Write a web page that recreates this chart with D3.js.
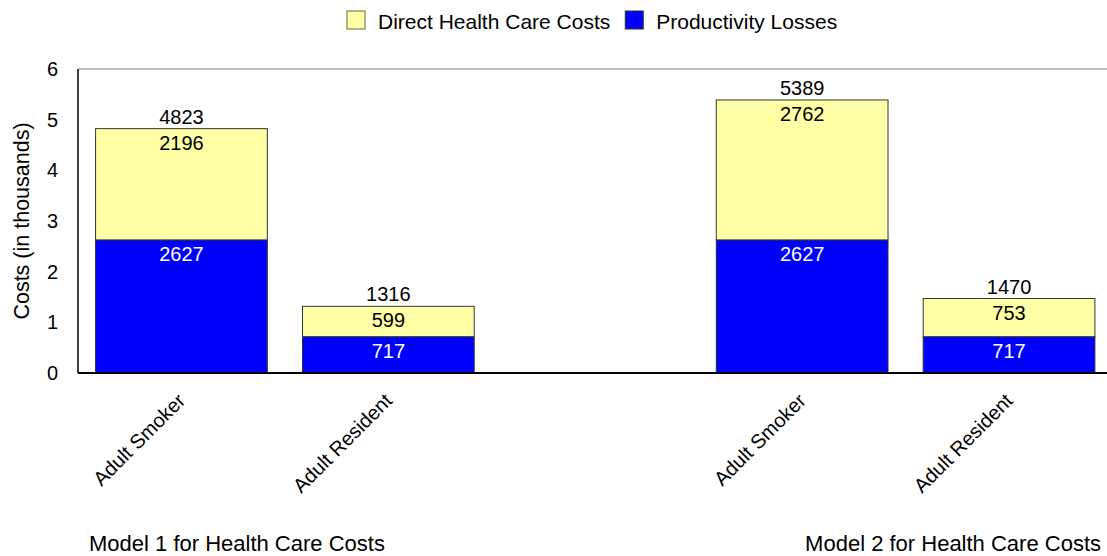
<!DOCTYPE html>
<html>
<head>
<meta charset="utf-8">
<script src="https://cdn.jsdelivr.net/npm/d3@7"></script>
<style>
  body { margin: 0; background: #fff; }
  text { font-family: "Liberation Sans", Arial, sans-serif; }
</style>
</head>
<body>
<svg id="chart"></svg>
<script>
const slots = ["m1-smoker", "m1-resident", "gap", "m2-smoker", "m2-resident"];
const categoryLabels = ["Adult Smoker", "Adult Resident", "", "Adult Smoker", "Adult Resident"];
const productivityLosses = [2627, 717, null, 2627, 717];
const directCosts = [2196, 599, null, 2762, 753];
const totals = [4823, 1316, null, 5389, 1470];
const yTicks = [0, 1000, 2000, 3000, 4000, 5000, 6000];
const seriesNames = ["Productivity Losses", "Direct Health Care Costs"];
const legendOrder = ["Direct Health Care Costs", "Productivity Losses"];
const modelLabels = ["Model 1 for Health Care Costs", "Model 2 for Health Care Costs"];

const width = 1107;
const height = 556;
const margin = { top: 69, left: 78, bottom: 373 };
const colors = {
  "Direct Health Care Costs": "#ffffa6",
  "Productivity Losses": "#0000ff",
};

const svg = d3.select("#chart")
  .attr("width", width)
  .attr("height", height);

function label(g, x, y, str, anchor, size, fill, rotate) {
  return g.append("text")
    .attr("transform", `translate(${x},${y})` + (rotate ? ` rotate(${rotate})` : ""))
    .attr("text-anchor", anchor)
    .attr("fill", fill || "#000")
    .style("font-size", size + "px")
    .text(str);
}

const rows = slots.map((s, i) => ({
  slot: s,
  "Productivity Losses": productivityLosses[i] ?? 0,
  "Direct Health Care Costs": directCosts[i] ?? 0,
  total: totals[i],
}));

const x = d3.scaleBand()
  .domain(slots)
  .range([margin.left, 1112.5])
  .paddingInner(0.17)
  .paddingOuter(0.085);

const y = d3.scaleLinear()
  .domain([0, 6000])
  .range([margin.bottom, margin.top]);

const stacked = d3.stack().keys(seriesNames)(rows);

// top border line
svg.append("line")
  .attr("x1", margin.left).attr("x2", width)
  .attr("y1", y(6000)).attr("y2", y(6000))
  .attr("stroke", "#808080")
  .attr("stroke-width", 1.2);

svg.selectAll(".layer")
  .data(stacked)
  .enter()
  .append("g")
  .attr("class", "layer")
  .attr("fill", (d) => colors[d.key])
  .selectAll("rect")
  .data((d) => d.filter((p) => p.data.total != null))
  .enter()
  .append("rect")
  .attr("x", (d) => x(d.data.slot))
  .attr("width", x.bandwidth())
  .attr("y", (d) => y(d[1]))
  .attr("height", (d) => y(d[0]) - y(d[1]))
  .attr("stroke", "#333")
  .attr("stroke-width", 1);

// value labels
const lbl = svg.append("g");
stacked.forEach((layer) => {
  layer.filter((p) => p.data.total != null).forEach((p) => {
    const cx = x(p.data.slot) + x.bandwidth() / 2;
    label(lbl, cx, y(p[1]) + 21, p.data[layer.key], "middle", 20,
      layer.key === "Productivity Losses" ? "#fff" : "#000");
  });
});
rows.filter((r) => r.total != null).forEach((r) => {
  label(lbl, x(r.slot) + x.bandwidth() / 2, y(r.total) - 5, r.total, "middle", 20);
});

// axes
svg.append("line")
  .attr("x1", margin.left).attr("x2", margin.left)
  .attr("y1", y(6000)).attr("y2", y(0))
  .attr("stroke", "#000").attr("stroke-width", 1.5);
svg.append("line")
  .attr("x1", margin.left).attr("x2", width)
  .attr("y1", y(0)).attr("y2", y(0))
  .attr("stroke", "#000").attr("stroke-width", 2);

const ticks = svg.append("g");
yTicks.forEach((t) => {
  label(ticks, 58, y(t) + 7, t / 1000, "end", 20);
});
label(svg, 29, (margin.top + margin.bottom) / 2, "Costs (in thousands)", "middle", 21.5, "#000", -90);

// category labels
const cats = svg.append("g");
slots.forEach((s, i) => {
  if (!categoryLabels[i]) return;
  const cx = x(s) + x.bandwidth() / 2;
  label(cats, cx + 5, 402, categoryLabels[i], "end", 20, "#000", -45);
});

label(svg, 89, 551, modelLabels[0], "start", 22);
label(svg, 1101, 551, modelLabels[1], "end", 22);

// legend
const legend = svg.append("g");
let lx = 347;
legendOrder.forEach((name) => {
  legend.append("rect")
    .attr("x", lx).attr("y", 11)
    .attr("width", 18).attr("height", 18)
    .attr("fill", colors[name])
    .attr("stroke", name === "Productivity Losses" ? "#333" : "#666633")
    .attr("stroke-width", 1);
  const t = label(legend, lx + 31, 29, name, "start", 21);
  lx += 31 + t.node().getBBox().width + 15;
});
</script>
</body>
</html>
